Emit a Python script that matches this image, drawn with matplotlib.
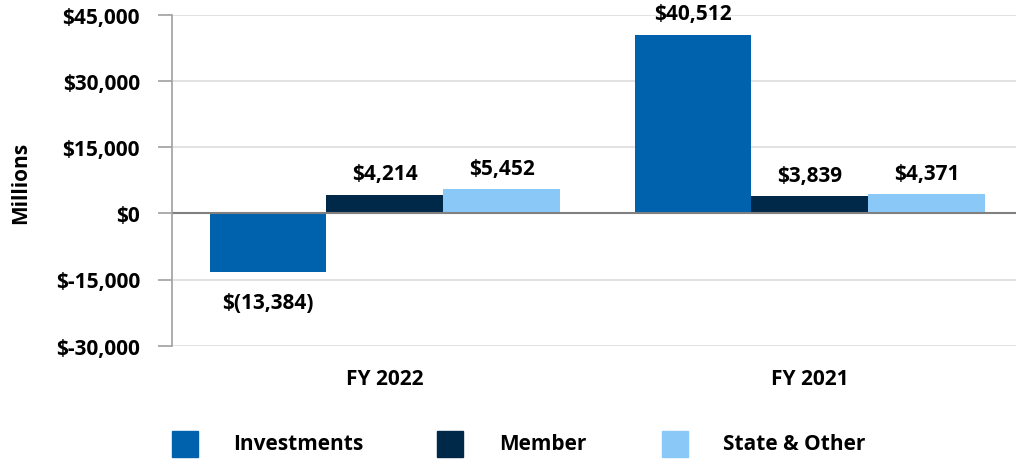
import matplotlib
matplotlib.use("Agg")
import matplotlib.pyplot as plt
from matplotlib.patches import Rectangle
import numpy as np

plt.rcParams['font.family'] = ['Open Sans', 'DejaVu Sans']
plt.rcParams['font.weight'] = 'bold'

categories = ["FY 2022", "FY 2021"]
series_names = ["Investments", "Member", "State & Other"]
investments = [-13384, 40512]
member = [4214, 3839]
state_other = [5452, 4371]
colors = ["#0061AD", "#002849", "#8AC8F8"]
yticks = [-30000, -15000, 0, 15000, 30000, 45000]

FS = 15
W, H = 1016, 464
fig = plt.figure(figsize=(W/100, H/100), dpi=100)
ax = fig.add_axes([172/W, 1-346.7/H, 1-172/W, (346.7-15.7)/H])

x = np.arange(len(categories))
w = 0.275
all_series = [investments, member, state_other]
for i, (vals, col) in enumerate(zip(all_series, colors)):
    pos = x + (i - 1) * w
    ax.bar(pos, vals, width=w, color=col, zorder=3, label=series_names[i])
    for p, v in zip(pos, vals):
        if v >= 0:
            ax.annotate(f"${v:,.0f}", (p, v), xytext=(0, 15), textcoords='offset points',
                        ha='center', va='center', fontsize=FS, fontweight='bold', color='black')
        else:
            ax.annotate(f"$({abs(v):,.0f})", (p, v), xytext=(0, -22), textcoords='offset points',
                        ha='center', va='center', fontsize=FS, fontweight='bold', color='black')

ax.set_xlim(-0.501, 1.485)
ax.set_ylim(-30000, 45000)
ax.set_yticks(yticks)
ax.set_yticklabels([f"${t:,.0f}" for t in yticks], fontsize=FS, fontweight='bold')
ax.set_xticks(x)
ax.set_xticklabels(categories, fontsize=FS, fontweight='bold')
ax.tick_params(axis='x', length=0, pad=16)
ax.tick_params(axis='y', length=10, color='#A0A0A0', width=1.2, pad=13)
ax.grid(axis='y', color='#DDDDDD', lw=1.2, zorder=0)
ax.axhline(0, color='#808080', lw=1.5, zorder=4)
for s in ['top', 'right', 'bottom']:
    ax.spines[s].set_visible(False)
ax.spines['left'].set_color('#A0A0A0')
ax.spines['left'].set_linewidth(1.2)
ax.spines['left'].set_zorder(5)

fig.text(21/W, 1-183/H, "Millions", rotation=90, ha='center', va='center',
         fontsize=FS, fontweight='bold')

# legend, laid out by hand like the original
sq_left = [172, 437, 662]
txt_left = [233, 499, 723]
yc = 445
for sl, tl, c, name in zip(sq_left, txt_left, colors, series_names):
    fig.patches.append(Rectangle((sl/W, 1-(yc+13)/H), 26/W, 26/H,
                                 transform=fig.transFigure, color=c, figure=fig))
    fig.text(tl/W, 1-yc/H, name, ha='left', va='center', fontsize=FS, fontweight='bold')

fig.savefig("out.png", dpi=100)
